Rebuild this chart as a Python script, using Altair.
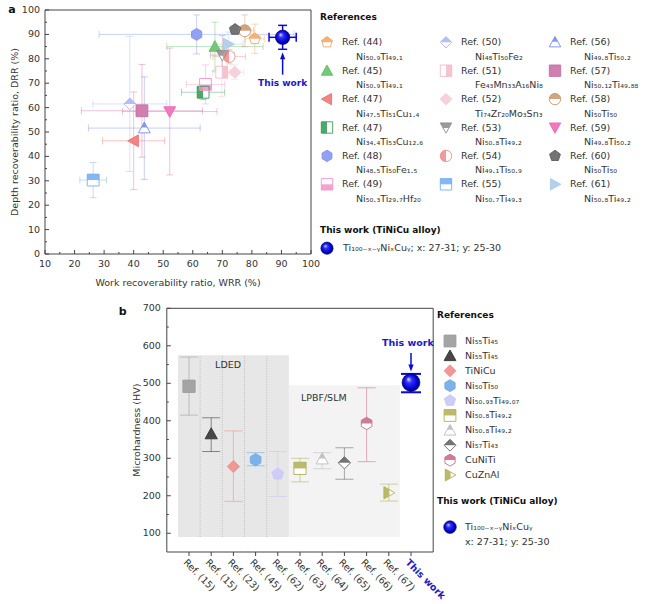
import re
import altair as alt
import pandas as pd

# ---------------- panel a : data ----------------
refs_a = ["Ref. (44)", "Ref. (45)", "Ref. (47)", "Ref. (47)", "Ref. (48)", "Ref. (49)",
          "Ref. (50)", "Ref. (51)", "Ref. (52)", "Ref. (53)", "Ref. (54)", "Ref. (55)",
          "Ref. (56)", "Ref. (57)", "Ref. (58)", "Ref. (59)", "Ref. (60)", "Ref. (61)"]
comps_a = ["Ni{50.9}Ti{49.1}", "Ni{50.9}Ti{49.1}", "Ni{47.5}Ti{51}Cu{1.4}", "Ni{34.4}Ti{53}Cu{12.6}",
           "Ni{48.5}Ti{50}Fe{1.5}", "Ni{50.3}Ti{29.7}Hf{20}", "Ni{48}Ti{50}Fe{2}", "Fe{43}Mn{33}A{16}Ni{8}",
           "Ti{74}Zr{20}Mo{3}Sn{3}", "Ni{50.8}Ti{49.2}", "Ni{49.1}Ti{50.9}", "Ni{50.7}Ti{49.3}",
           "Ni{49.8}Ti{50.2}", "Ni{50.12}Ti{49.88}", "Ni{50}Ti{50}", "Ni{49.8}Ti{50.2}",
           "Ni{50}Ti{50}", "Ni{50.8}Ti{49.2}"]
wrr = [81.0, 67.5, 40.0, 63.5, 61.3, 64.3, 38.7, 69.8, 74.2, 70.0, 72.3, 26.3, 43.6, 42.8, 77.6, 52.2, 74.3, 72.0]
wrr_err = [3.2, 16.3, 10.5, 7.3, 33.0, 6.5, 12.5, 3.0, 3.0, 4.0, 5.5, 4.5, 18.9, 20.5, 3.0, 16.0, 1.5, 5.0]
drr = [88.2, 85.0, 46.4, 66.3, 90.0, 69.5, 61.5, 74.5, 74.5, 81.5, 80.9, 30.3, 51.6, 58.7, 91.5, 58.4, 92.0, 86.0]
drr_err = [6.0, 10.0, 20.0, 3.0, 8.0, 8.0, 27.7, 10.0, 3.0, 8.0, 3.0, 7.2, 21.0, 19.0, 6.5, 26.0, 1.5, 5.0]

this_wrr, this_wrr_err = 90.4, 4.6
this_drr, this_drr_err = 88.8, 4.9
this_comp = "Ti{100-x-y}Ni{x}Cu{y}"
this_range = "x: 27-31; y: 25-30"

x_ticks_a = [10, 20, 30, 40, 50, 60, 70, 80, 90, 100]
y_ticks_a = [0, 10, 20, 30, 40, 50, 60, 70, 80, 90, 100]

# ---------------- panel b : data ----------------
refs_b = ["Ref. (15)", "Ref. (15)", "Ref. (23)", "Ref. (45)", "Ref. (62)",
          "Ref. (63)", "Ref. (64)", "Ref. (65)", "Ref. (66)", "Ref. (67)"]
comps_b = ["Ni{55}Ti{45}", "Ni{55}Ti{45}", "TiNiCu", "Ni{50}Ti{50}", "Ni{50.93}Ti{49.07}",
           "Ni{50.8}Ti{49.2}", "Ni{50.8}Ti{49.2}", "Ni{57}Ti{43}", "CuNiTi", "CuZnAl"]
hv = [492, 365, 278, 296, 258, 273, 298, 288, 393, 208]
hv_lo = [415, 318, 185, 280, 198, 237, 272, 244, 291, 186]
hv_hi = [570, 408, 373, 315, 318, 300, 315, 328, 488, 231]
this_hv, this_hv_lo, this_hv_hi = 502, 476, 525
this_label = "This work"
y_ticks_b = [100, 200, 300, 400, 500, 600, 700]

regions = ["LDED", "LPBF/SLM"]
region_first = [0, 5]
region_last = [4, 9]
region_top = [575, 495]
region_bottom = [90, 90]

# ---------------- styles ----------------
FONT = "DejaVu Sans"
TXT = "#333333"
BLUE = "#0a0ad2"
SHAPE = {
    "square": "M-1,-1L1,-1L1,1L-1,1Z",
    "square_top": "M-1,-1L1,-1L1,0L-1,0Z",
    "square_bottom": "M-1,0L1,0L1,1L-1,1Z",
    "square_left": "M-1,-1L0,-1L0,1L-1,1Z",
    "square_right": "M0,-1L1,-1L1,1L0,1Z",
    "tri_up": "M0,-1L1,0.8L-1,0.8Z",
    "tri_up_top": "M0,-1L0.5,-0.1L-0.5,-0.1Z",
    "tri_down": "M-1,-0.8L1,-0.8L0,1Z",
    "tri_down_top": "M-1,-0.8L1,-0.8L0.5,0.1L-0.5,0.1Z",
    "tri_left": "M-1,0L0.8,-1L0.8,1Z",
    "tri_right": "M1,0L-0.8,-1L-0.8,1Z",
    "tri_right_left": "M-0.8,-1L0.1,-0.5L0.1,0.5L-0.8,1Z",
    "diamond": "M0,-1L1,0L0,1L-1,0Z",
    "diamond_top": "M0,-1L1,0L-1,0Z",
    "hexagon": "M0,-1L0.866,-0.5L0.866,0.5L0,1L-0.866,0.5L-0.866,-0.5Z",
    "hexagon_top": "M0,-1L0.866,-0.5L0.866,0L-0.866,0L-0.866,-0.5Z",
    "pentagon": "M0,-1L0.951,-0.309L0.588,0.809L-0.588,0.809L-0.951,-0.309Z",
    "pentagon_top": "M0,-1L0.951,-0.309L0.851,0L-0.851,0L-0.951,-0.309Z",
    "circle": "M-1,0A1,1,0,1,1,1,0A1,1,0,1,1,-1,0Z",
    "circle_top": "M-1,0A1,1,0,0,1,1,0Z",
    "circle_left": "M0,-1A1,1,0,0,0,0,1Z",
}
col_a = ["#f5a35f", "#5cbf62", "#f26d6d", "#2e9a50", "#8090f0", "#f590c8", "#aab2f5", "#f5b8c8", "#f7c8d4",
         "#8a8a8a", "#f08a8a", "#70aaf0", "#7088ee", "#c86aa0", "#c8956a", "#f062b4", "#5a5a5a", "#a8c8ea"]
outl_a = ["pentagon", "tri_up", "tri_left", "square", "hexagon", "square", "diamond", "square", "diamond",
          "tri_down", "circle", "square", "tri_up", "square", "circle", "tri_down", "pentagon", "tri_right"]
half_a = ["pentagon_top", "tri_up", "tri_left", "square_left", "hexagon", "square_bottom", "diamond_top",
          "square_right", "diamond", "tri_down_top", "circle_left", "square_top", "tri_up_top", "square",
          "circle_top", "tri_down", "pentagon", "tri_right"]
col_b = ["#9a9a9a", "#333333", "#f28b8b", "#6fa8e8", "#c8c8f6", "#b2b25a", "#bdbdbd", "#666666", "#c86f8e", "#b2b25a"]
outl_b = ["square", "tri_up", "diamond", "hexagon", "pentagon", "square", "tri_up", "diamond", "hexagon", "tri_right"]
half_b = ["square", "tri_up", "diamond", "hexagon", "pentagon", "square_top", "tri_up_top", "diamond_top",
          "hexagon_top", "tri_right_left"]

SPHERE = alt.RadialGradient(
    gradient="radial",
    stops=[alt.GradientStop(offset=0, color="#e6e6ff"),
           alt.GradientStop(offset=0.3, color="#3030ff"),
           alt.GradientStop(offset=0.75, color="#0000c8"),
           alt.GradientStop(offset=1, color="#00006a")],
    x1=0.35, y1=0.3, r1=0, x2=0.5, y2=0.5, r2=0.55)

SUBS = str.maketrans("0123456789-xy", "₀₁₂₃₄₅₆₇₈₉₋ₓᵧ")


def fmt(s):
    return re.sub(r"\{([^}]*)\}", lambda m: m.group(1).translate(SUBS), s)


# ---------------- scales (pixel layout) ----------------
xa = alt.Scale(domain=[10, 100], range=[45, 311], nice=False, zero=False)
ya = alt.Scale(domain=[0, 100], range=[254, 10], nice=False, zero=False)
lxa = alt.Scale(domain=[0, 1, 2], range=[327, 446, 555], nice=False, zero=False)
lya = alt.Scale(domain=[0, 5], range=[42.3, 184.3], nice=False, zero=False)
xb = alt.Scale(domain=[0, 10], range=[189, 411], nice=False, zero=False)
yb = alt.Scale(domain=[50, 700], range=[552, 308.3], nice=False, zero=False)
lxb = alt.Scale(domain=[0, 1], range=[450, 465], nice=False, zero=False)
lyb = alt.Scale(domain=[0, 9], range=[341, 475], nice=False, zero=False)


def X(f, s):
    return alt.X(f, type="quantitative", scale=s, axis=None)


def Y(f, s):
    return alt.Y(f, type="quantitative", scale=s, axis=None)


CE = alt.Color("color:N", scale=None)


def text(df, xf, yf, xs, ys, tf="t", **kw):
    props = dict(font=FONT, fontSize=9.5, color=TXT)
    props.update(kw)
    return alt.Chart(df).mark_text(**props).encode(x=X(xf, xs), y=Y(yf, ys), text=alt.Text(tf + ":N"))


def pts(df, xf, yf, xs, ys, path, size, sw=1.0, opacity=1.0, color=None):
    if color is None:
        return alt.Chart(df).mark_point(shape=path, size=size, filled=False, strokeWidth=sw,
                                        opacity=opacity).encode(x=X(xf, xs), y=Y(yf, ys), color=CE)
    return alt.Chart(df).mark_point(shape=path, size=size, filled=False, strokeWidth=sw, opacity=opacity,
                                    stroke=color).encode(x=X(xf, xs), y=Y(yf, ys))


def markers(df, xf, yf, xs, ys, size, opacity=0.9):
    base = alt.Chart(df).mark_point(filled=True, fill="white", size=size, opacity=1, strokeWidth=0).encode(
        x=X(xf, xs), y=Y(yf, ys), shape=alt.Shape("outline:N", scale=None))
    half = alt.Chart(df).mark_point(filled=True, size=size, opacity=opacity, strokeWidth=0).encode(
        x=X(xf, xs), y=Y(yf, ys), shape=alt.Shape("half:N", scale=None), color=CE)
    line = alt.Chart(df).mark_point(filled=False, size=size, opacity=opacity, strokeWidth=1).encode(
        x=X(xf, xs), y=Y(yf, ys), shape=alt.Shape("outline:N", scale=None), color=CE)
    return [base, half, line]


def sphere(df, xf, yf, xs, ys, size):
    return alt.Chart(df).mark_point(shape="circle", filled=True, fill=SPHERE, size=size, opacity=1,
                                    stroke="#00005a", strokeWidth=0.6).encode(x=X(xf, xs), y=Y(yf, ys))


# ================= panel a =================
df_a = pd.DataFrame({
    "x": wrr, "y": drr,
    "xlo": [v - e for v, e in zip(wrr, wrr_err)], "xhi": [v + e for v, e in zip(wrr, wrr_err)],
    "ylo": [v - e for v, e in zip(drr, drr_err)], "yhi": [v + e for v, e in zip(drr, drr_err)],
    "color": col_a, "outline": [SHAPE[s] for s in outl_a], "half": [SHAPE[s] for s in half_a],
})
df_tw_a = pd.DataFrame({"x": [this_wrr], "y": [this_drr],
                        "xlo": [this_wrr - this_wrr_err], "xhi": [this_wrr + this_wrr_err],
                        "ylo": [this_drr - this_drr_err], "yhi": [this_drr + this_drr_err],
                        "ta": [70.2], "a0": [73.5], "a1": [80.0], "ah": [81.2], "t": ["This work"]})

frame_a = alt.Chart(pd.DataFrame({"x0": [10], "x1": [100], "y0": [0], "y1": [100]})).mark_rect(
    fill="white", fillOpacity=0, stroke="#444444", strokeWidth=1).encode(
    x=X("x0", xa), x2="x1", y=Y("y0", ya), y2="y1")

xt_a = pd.DataFrame({"v": x_ticks_a, "z": 0, "t": [str(v) for v in x_ticks_a]})
xm_a = pd.DataFrame({"v": [v + 5 for v in x_ticks_a[:-1]], "z": 0})
yt_a = pd.DataFrame({"v": y_ticks_a, "z": 10, "t": [str(v) for v in y_ticks_a]})
ym_a = pd.DataFrame({"v": [v + 5 for v in y_ticks_a[:-1]], "z": 10})

layers_a = [
    frame_a,
    pts(xt_a, "v", "z", xa, ya, "M0,-1L0,0", 64, color="#444444"),
    pts(xm_a, "v", "z", xa, ya, "M0,-1L0,0", 16, color="#444444"),
    pts(yt_a, "z", "v", xa, ya, "M0,0L1,0", 64, color="#444444"),
    pts(ym_a, "z", "v", xa, ya, "M0,0L1,0", 16, color="#444444"),
    text(xt_a, "v", "z", xa, ya, align="center", baseline="top", dy=5),
    text(yt_a, "z", "v", xa, ya, align="right", baseline="middle", dx=-5),
    text(pd.DataFrame({"x": [10], "y": [50], "t": ["Depth recoverability ratio, DRR (%)"]}), "x", "y", xa, ya,
         align="center", baseline="middle", angle=270, xOffset=-30),
    text(pd.DataFrame({"x": [55], "y": [0], "t": ["Work recoverability ratio, WRR (%)"]}), "x", "y", xa, ya,
         align="center", baseline="middle", yOffset=29),
    text(pd.DataFrame({"x": [10], "y": [100], "t": ["a"]}), "x", "y", xa, ya,
         align="center", baseline="middle", xOffset=-33, fontWeight="bold", fontSize=11, color="#111111"),
    alt.Chart(df_a).mark_rule(opacity=0.4, strokeWidth=1).encode(x=X("xlo", xa), x2="xhi", y=Y("y", ya), color=CE),
    alt.Chart(df_a).mark_rule(opacity=0.4, strokeWidth=1).encode(x=X("x", xa), y=Y("ylo", ya), y2="yhi", color=CE),
    pts(df_a, "xlo", "y", xa, ya, "M0,-1L0,1", 49, opacity=0.4),
    pts(df_a, "xhi", "y", xa, ya, "M0,-1L0,1", 49, opacity=0.4),
    pts(df_a, "x", "ylo", xa, ya, "M-1,0L1,0", 49, opacity=0.4),
    pts(df_a, "x", "yhi", xa, ya, "M-1,0L1,0", 49, opacity=0.4),
] + markers(df_a, "x", "y", xa, ya, 140, 0.85) + [
    alt.Chart(df_tw_a).mark_rule(strokeWidth=1.5, color=BLUE).encode(x=X("xlo", xa), x2="xhi", y=Y("y", ya)),
    alt.Chart(df_tw_a).mark_rule(strokeWidth=1.5, color=BLUE).encode(x=X("x", xa), y=Y("ylo", ya), y2="yhi"),
    pts(df_tw_a, "xlo", "y", xa, ya, "M0,-1L0,1", 81, sw=1.5, color=BLUE),
    pts(df_tw_a, "xhi", "y", xa, ya, "M0,-1L0,1", 81, sw=1.5, color=BLUE),
    pts(df_tw_a, "x", "ylo", xa, ya, "M-1,0L1,0", 81, sw=1.5, color=BLUE),
    pts(df_tw_a, "x", "yhi", xa, ya, "M-1,0L1,0", 81, sw=1.5, color=BLUE),
    sphere(df_tw_a, "x", "y", xa, ya, 210),
    alt.Chart(df_tw_a).mark_rule(strokeWidth=1.5, color=BLUE).encode(x=X("x", xa), y=Y("a0", ya), y2="a1"),
    alt.Chart(df_tw_a).mark_point(shape="M0,-1L0.75,1L-0.75,1Z", size=49, filled=True, fill=BLUE,
                                  strokeWidth=0, opacity=1).encode(x=X("x", xa), y=Y("ah", ya)),
    text(df_tw_a, "x", "ta", xa, ya, align="center", baseline="middle", fontWeight="bold", fontSize=9,
         color="#1a1ac8"),
]
panel_a = alt.layer(*layers_a)

# ---------------- legend a ----------------
leg_a = pd.DataFrame({
    "col": [i // 6 for i in range(len(refs_a))], "row": [i % 6 for i in range(len(refs_a))],
    "ref": refs_a, "comp": [fmt(c) for c in comps_a],
    "color": col_a, "outline": [SHAPE[s] for s in outl_a], "half": [SHAPE[s] for s in half_a],
})
hdr_a = pd.DataFrame({"col": [0, 0], "row": [-0.9, 6.61], "t": ["References", "This work (TiNiCu alloy)"]})
tw_leg_a = pd.DataFrame({"col": [0], "row": [7.25], "t": [fmt(this_comp) + "; " + this_range]})

layers_la = markers(leg_a, "col", "row", lxa, lya, 130, 0.85) + [
    text(leg_a, "col", "row", lxa, lya, tf="ref", align="left", baseline="middle", dx=15),
    text(leg_a, "col", "row", lxa, lya, tf="comp", align="left", baseline="middle", dx=29, dy=14.5),
    text(hdr_a, "col", "row", lxa, lya, align="left", baseline="middle", xOffset=-7, fontWeight="bold",
         fontSize=9, color="#111111"),
    sphere(tw_leg_a, "col", "row", lxa, lya, 150),
    text(tw_leg_a, "col", "row", lxa, lya, align="left", baseline="middle", dx=16),
]
legend_a = alt.layer(*layers_la)

# ================= panel b =================
n_b = len(refs_b)
df_b = pd.DataFrame({
    "x": list(range(n_b)), "y": hv, "ylo": hv_lo, "yhi": hv_hi,
    "color": col_b, "outline": [SHAPE[s] for s in outl_b], "half": [SHAPE[s] for s in half_b],
})
df_tw_b = pd.DataFrame({"x": [n_b], "y": [this_hv], "ylo": [this_hv_lo], "yhi": [this_hv_hi],
                        "ta": [607], "a0": [581], "a1": [548], "ah": [541], "t": [this_label]})
df_reg = pd.DataFrame({"x0": [f - 0.5 for f in region_first], "x1": [l + 0.5 for l in region_last],
                       "y0": region_bottom, "y1": region_top, "t": regions,
                       "fill": ["#e7e7e7", "#f3f3f3"]})
df_reg_lab = pd.DataFrame({"x": [1.76, 6.07], "y": [549, 461], "t": regions})
df_stripes = pd.DataFrame({"x": [i + 0.5 for i in range(region_first[0], region_last[0])],
                           "y0": region_bottom[0], "y1": region_top[0]})

frame_b = alt.Chart(pd.DataFrame({"x0": [-1], "x1": [n_b + 1], "y0": [50], "y1": [700]})).mark_rect(
    fill="white", fillOpacity=0, stroke="#444444", strokeWidth=1).encode(
    x=X("x0", xb), x2="x1", y=Y("y0", yb), y2="y1")
xt_b = pd.DataFrame({"v": list(range(n_b + 1)), "z": 50, "t": refs_b + [this_label]})
yt_b = pd.DataFrame({"v": y_ticks_b, "z": -1, "t": [str(v) for v in y_ticks_b]})
ym_b = pd.DataFrame({"v": [v + 50 for v in y_ticks_b[:-1]], "z": -1})

layers_b = [
    alt.Chart(df_reg).mark_rect(strokeWidth=0).encode(
        x=X("x0", xb), x2="x1", y=Y("y0", yb), y2="y1", fill=alt.Fill("fill:N", scale=None)),
    alt.Chart(df_stripes).mark_rule(color="#c4c4c4", strokeWidth=1, strokeDash=[1, 1]).encode(
        x=X("x", xb), y=Y("y0", yb), y2="y1"),
    frame_b,
    pts(xt_b, "v", "z", xb, yb, "M0,0L0,1", 64, color="#444444"),
    pts(yt_b, "z", "v", xb, yb, "M0,0L1,0", 64, color="#444444"),
    pts(ym_b, "z", "v", xb, yb, "M0,0L1,0", 16, color="#444444"),
    text(yt_b, "z", "v", xb, yb, align="right", baseline="middle", dx=-6),
    text(xt_b[xt_b["t"] != this_label], "v", "z", xb, yb, align="left", baseline="middle", angle=45,
         xOffset=-4, yOffset=9),
    text(xt_b[xt_b["t"] == this_label], "v", "z", xb, yb, align="left", baseline="middle", angle=45,
         xOffset=-4, yOffset=9, fontWeight="bold", color="#1a1ac8"),
    text(pd.DataFrame({"x": [-1], "y": [375], "t": ["Microhardness (HV)"]}), "x", "y", xb, yb,
         align="center", baseline="middle", angle=270, xOffset=-30),
    text(pd.DataFrame({"x": [-1], "y": [700], "t": ["b"]}), "x", "y", xb, yb,
         align="center", baseline="middle", xOffset=-44, yOffset=4, fontWeight="bold", fontSize=11,
         color="#111111"),
    text(df_reg_lab, "x", "y", xb, yb, align="center", baseline="middle"),
    alt.Chart(df_b).mark_rule(opacity=0.55, strokeWidth=1).encode(x=X("x", xb), y=Y("ylo", yb), y2="yhi", color=CE),
    pts(df_b, "x", "ylo", xb, yb, "M-1,0L1,0", 324, opacity=0.55),
    pts(df_b, "x", "yhi", xb, yb, "M-1,0L1,0", 324, opacity=0.55),
] + markers(df_b, "x", "y", xb, yb, 150, 0.9) + [
    alt.Chart(df_tw_b).mark_rule(strokeWidth=1.5, color=BLUE).encode(x=X("x", xb), y=Y("ylo", yb), y2="yhi"),
    pts(df_tw_b, "x", "ylo", xb, yb, "M-1,0L1,0", 400, sw=2, color=BLUE),
    pts(df_tw_b, "x", "yhi", xb, yb, "M-1,0L1,0", 400, sw=2, color=BLUE),
    sphere(df_tw_b, "x", "y", xb, yb, 320),
    alt.Chart(df_tw_b).mark_rule(strokeWidth=1.5, color=BLUE).encode(x=X("x", xb), y=Y("a0", yb), y2="a1"),
    alt.Chart(df_tw_b).mark_point(shape="M0,1L0.75,-1L-0.75,-1Z", size=49, filled=True, fill=BLUE,
                                  strokeWidth=0, opacity=1).encode(x=X("x", xb), y=Y("ah", yb)),
    text(df_tw_b, "x", "ta", xb, yb, align="center", baseline="middle", fontWeight="bold", fontSize=9.5,
         color="#1a1ac8", xOffset=-3),
]
panel_b = alt.layer(*layers_b)

# ---------------- legend b ----------------
leg_b = pd.DataFrame({
    "col": 0, "tcol": 1, "row": list(range(n_b)), "t": [fmt(c) for c in comps_b],
    "color": col_b, "outline": [SHAPE[s] for s in outl_b], "half": [SHAPE[s] for s in half_b],
})
hdr_b = pd.DataFrame({"col": [0, 0], "row": [-1.75, 10.75], "t": ["References", "This work (TiNiCu alloy)"]})
tw_leg_b = pd.DataFrame({"col": [0], "row": [12.5]})
tw_txt_b = pd.DataFrame({"col": [1, 1], "row": [12.5, 13.5], "t": [fmt(this_comp), this_range]})

layers_lb = markers(leg_b, "col", "row", lxb, lyb, 140, 0.9) + [
    text(leg_b, "tcol", "row", lxb, lyb, align="left", baseline="middle"),
    text(hdr_b, "col", "row", lxb, lyb, align="left", baseline="middle", xOffset=-13, fontWeight="bold",
         fontSize=9, color="#111111"),
    sphere(tw_leg_b, "col", "row", lxb, lyb, 160),
    text(tw_txt_b, "col", "row", lxb, lyb, align="left", baseline="middle"),
]
legend_b = alt.layer(*layers_lb)

chart = alt.layer(panel_a, legend_a, panel_b, legend_b).resolve_scale(
    x="independent", y="independent"
).properties(
    width=650, height=604, padding=0, autosize=alt.AutoSizeParams(type="none"),
    background="white",
).configure_view(strokeWidth=0)

chart.save("out.html", embed_options={"renderer": "svg", "actions": False})
